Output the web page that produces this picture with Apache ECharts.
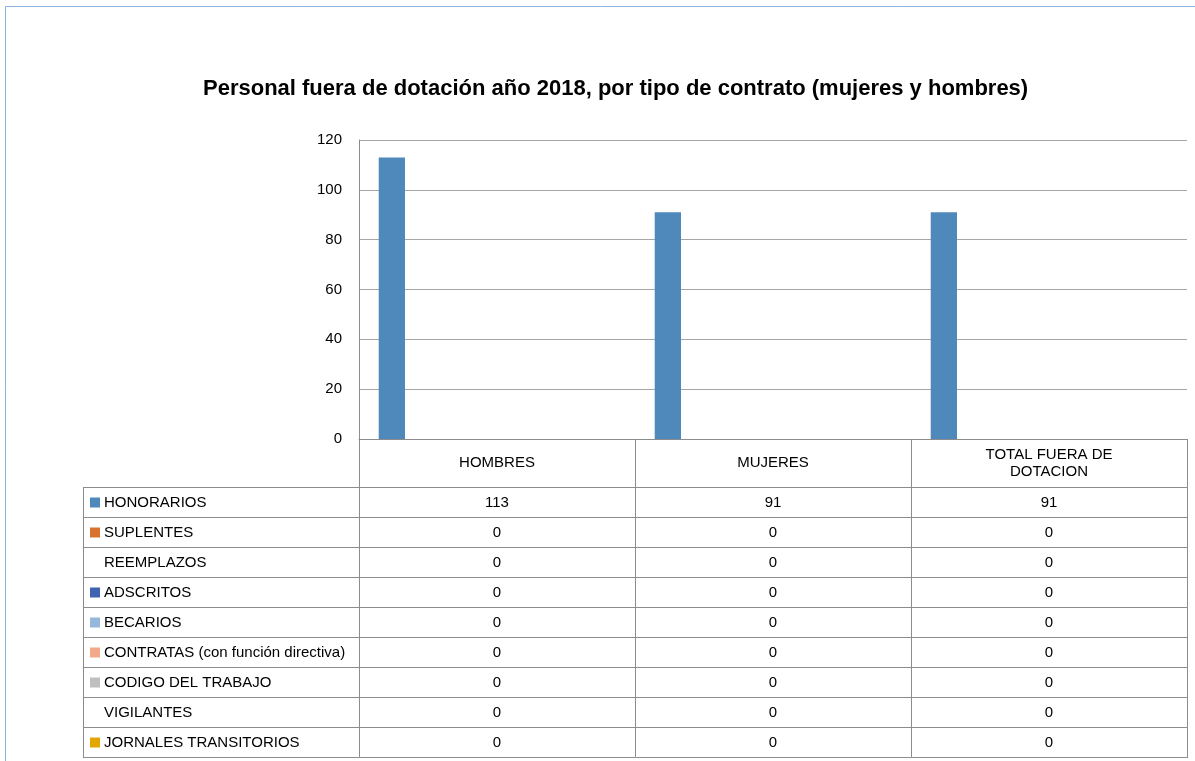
<!DOCTYPE html>
<html>
<head>
<meta charset="utf-8">
<script src="https://cdn.jsdelivr.net/npm/echarts@6/dist/echarts.min.js"></script>
<style>
html,body{margin:0;padding:0;background:#fff;}
#main{width:1195px;height:761px;}
</style>
</head>
<body>
<div id="main"></div>
<script>
// ---- data ----
const titleText = 'Personal fuera de dotación año 2018, por tipo de contrato (mujeres y hombres)';
const categories = ['HOMBRES', 'MUJERES', 'TOTAL FUERA DE\nDOTACION'];
const seriesNames = ['HONORARIOS', 'SUPLENTES', 'REEMPLAZOS', 'ADSCRITOS', 'BECARIOS',
  'CONTRATAS (con función directiva)', 'CODIGO DEL TRABAJO', 'VIGILANTES', 'JORNALES TRANSITORIOS'];
const honorarios = [113, 91, 91];
const suplentes = [0, 0, 0];
const reemplazos = [0, 0, 0];
const adscritos = [0, 0, 0];
const becarios = [0, 0, 0];
const contratas = [0, 0, 0];
const codigoTrabajo = [0, 0, 0];
const vigilantes = [0, 0, 0];
const jornales = [0, 0, 0];
const seriesValues = [honorarios, suplentes, reemplazos, adscritos, becarios, contratas, codigoTrabajo, vigilantes, jornales];
const yTicks = [0, 20, 40, 60, 80, 100, 120];

// ---- style ----
const seriesColors = ['#4f88bb', '#d9722f', null, '#3f63b0', '#95b7dd', '#f2a98b', '#bfbfbf', null, '#e3a600'];
const FONT = "'Liberation Sans', Arial, sans-serif";
const FS = 15;
const LINE = '#8c8c8c';

const chart = echarts.init(document.getElementById('main'), null, {renderer: 'canvas'});

const GRID = {left: 359, right: 8, top: 140, bottom: 322};

chart.setOption({
  animation: false,
  backgroundColor: '#fff',
  title: {
    text: titleText, left: 198, top: 73,
    textStyle: {fontFamily: FONT, fontSize: 22, fontWeight: 'bold', color: '#000'}
  },
  grid: GRID,
  xAxis: {
    type: 'category', data: categories,
    axisLine: {show: true, lineStyle: {color: LINE, width: 1}},
    axisTick: {show: false},
    axisLabel: {
      fontFamily: FONT, fontSize: FS, color: '#000', margin: 24,
      verticalAlign: 'middle', lineHeight: 17, interval: 0, align: 'center'
    }
  },
  yAxis: {
    type: 'value', min: yTicks[0], max: yTicks[yTicks.length - 1], interval: 20,
    axisLine: {show: true, lineStyle: {color: LINE, width: 1}},
    axisTick: {show: false},
    axisLabel: {fontFamily: FONT, fontSize: FS, color: '#000', margin: 17},
    splitLine: {lineStyle: {color: '#a6a6a6', width: 1}}
  },
  series: seriesNames.map((n, i) => ({
    name: n, type: 'bar', data: seriesValues[i],
    barGap: '0%', barCategoryGap: '14.29%',
    itemStyle: {color: seriesColors[i] || '#ffffff'}
  }))
});

// ---- data table (drawn from the arrays, positioned with the axis scale) ----
const centers = categories.map((c, i) => chart.convertToPixel({xAxisIndex: 0}, i));
const gridLeft = GRID.left, gridRight = 1195 - GRID.right;
const axisY = 761 - GRID.bottom;
const rowTop = 487, rowH = 30, tableLeft = 83;
const nRows = seriesNames.length;
const tableBottom = rowTop + nRows * rowH;
const colW = (gridRight - gridLeft) / categories.length;
const g = [];

// outer frame
g.push({type: 'rect', shape: {x: 5.5, y: 6.5, width: 1300, height: 900},
  style: {fill: 'none', stroke: '#8cb2e0', lineWidth: 1}, silent: true});

// vertical lines
for (let i = 0; i <= categories.length; i++) {
  const x = Math.round(gridLeft + i * colW) + 0.5;
  g.push({type: 'line', shape: {x1: x, y1: axisY, x2: x, y2: tableBottom},
    style: {stroke: LINE, lineWidth: 1}, silent: true});
}
g.push({type: 'line', shape: {x1: tableLeft + 0.5, y1: rowTop, x2: tableLeft + 0.5, y2: tableBottom},
  style: {stroke: LINE, lineWidth: 1}, silent: true});
// horizontal lines
for (let r = 0; r <= nRows; r++) {
  const y = rowTop + r * rowH + 0.5;
  g.push({type: 'line', shape: {x1: tableLeft, y1: y, x2: gridRight + 1, y2: y},
    style: {stroke: LINE, lineWidth: 1}, silent: true});
}
// row labels, markers, values
seriesNames.forEach((name, r) => {
  const cy = rowTop + r * rowH + rowH / 2 + 0.5;
  if (seriesColors[r]) {
    g.push({type: 'rect', shape: {x: 90, y: cy - 5, width: 10, height: 10},
      style: {fill: seriesColors[r]}, silent: true});
  }
  g.push({type: 'text', x: 104, y: cy,
    style: {text: name, fontFamily: FONT, fontSize: FS, fill: '#000', verticalAlign: 'middle', align: 'left'}, silent: true});
  seriesValues[r].forEach((v, c) => {
    g.push({type: 'text', x: centers[c], y: cy,
      style: {text: String(v), fontFamily: FONT, fontSize: FS, fill: '#000', verticalAlign: 'middle', align: 'center'}, silent: true});
  });
});

chart.setOption({graphic: {elements: g}});
</script>
</body>
</html>
